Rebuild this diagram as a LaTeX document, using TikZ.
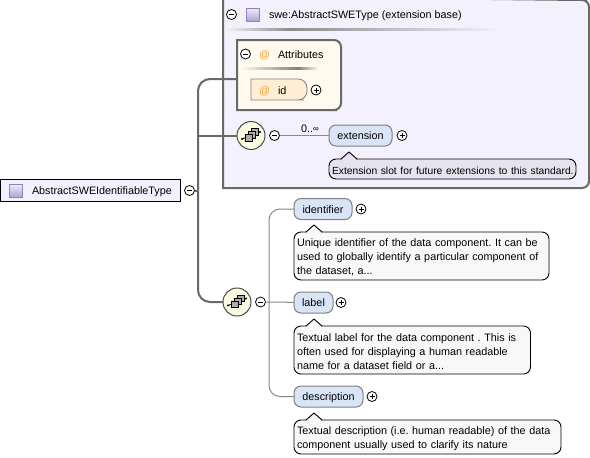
\documentclass[tikz,border=0pt]{standalone}
\usepackage{fontspec}
\setmainfont{Liberation Sans}
\usepackage{xcolor}
\usetikzlibrary{arrows.meta, positioning, calc}
\definecolor{busgray}{RGB}{104,104,104}
\definecolor{thingray}{RGB}{136,136,136}
\definecolor{typefill}{RGB}{243,241,251}
\definecolor{attrfill}{RGB}{255,249,238}
\definecolor{idfill}{RGB}{255,238,212}
\definecolor{elemfill}{RGB}{217,229,246}
\definecolor{notefill}{RGB}{230,227,238}
\definecolor{plainfill}{RGB}{248,248,248}
\definecolor{seqfill}{RGB}{251,251,227}
\definecolor{atorange}{RGB}{238,160,50}
\definecolor{iconline}{RGB}{150,128,190}
\definecolor{iconlight}{RGB}{240,238,248}
\definecolor{icondark}{RGB}{178,160,214}
\frenchspacing

\begin{document}
\begin{tikzpicture}[
  x=1pt, y=-1pt,
  every node/.style={font=\fontsize{10.8}{14}\selectfont, outer sep=0pt},
  bus/.style={draw=busgray, line width=2pt},
  thin line/.style={draw=thingray, line width=1pt},
  btn/.style={circle, draw, fill=white, line width=0.8pt, minimum size=10pt, inner sep=0pt},
  minusbtn/.style={btn, path picture={\draw[line width=0.8pt] ($(path picture bounding box.center)+(-2.5,0)$) -- ($(path picture bounding box.center)+(2.5,0)$);}},
  plusbtn/.style={btn, path picture={\draw[line width=0.8pt] ($(path picture bounding box.center)+(-2.5,0)$) -- ($(path picture bounding box.center)+(2.5,0)$); \draw[line width=0.8pt] ($(path picture bounding box.center)+(0,-2.5)$) -- ($(path picture bounding box.center)+(0,2.5)$);}},
  label text/.style={inner sep=0pt, anchor=base west},
  typeicon/.style={rectangle, draw=iconline, line width=0.8pt, minimum size=13pt, inner sep=0pt, top color=iconlight, bottom color=icondark},
  seqnode/.style={circle, draw=black!70, fill=seqfill, line width=1pt, minimum size=28pt, inner sep=0pt},
  elem/.style={draw=black!50, fill=elemfill, rounded corners=7pt, line width=1pt, minimum height=21pt, inner sep=0pt, text height=8pt, text depth=0pt, anchor=north west},
  docnote/.style={draw=black, line width=0.9pt, rounded corners=7pt, inner xsep=3pt, inner ysep=0pt, anchor=north west, align=left, execute at begin node={\rule{0pt}{11pt}}},
  seqicon/.pic={
    \draw[line width=0.8pt] (-9,3.5) -- (9,-3.5);
    \fill (-9,3.5) circle (1.1pt);
    \fill (9,-3.5) circle (1.1pt);
    \draw[fill=black!33, line width=0.7pt] (0.5,-7) rectangle (7,-0.5);
    \draw[fill=black!33, line width=0.7pt] (-2.5,-4) rectangle (4,2.5);
    \draw[fill=black!33, line width=0.7pt] (-5.5,-1) rectangle (1,5.5);
  }
]
  \useasboundingbox (0,0) rectangle (590,458);

  % Extension base panel
  \draw[draw=busgray, line width=2pt, fill=typefill] (223,-4) -- (223,188) -- (582,188)
    [rounded corners=7pt] -- (589,188) -- (589,0) -- (580,0) [sharp corners] -- cycle;
  \shade[left color=typefill, right color=black!45] (225,28) rectangle (290,30);
  \shade[left color=black!45, right color=typefill] (290,28) rectangle (500,30);
  \node[minusbtn] (basebtn) at (231.5,14.5) {};
  \node[typeicon] (baseicon) at (252.5,14.5) {};
  \node[label text] (basename) at (269,18.5) {swe:AbstractSWEType (extension base)};

  % Attributes group
  \draw[draw=busgray, line width=2pt, fill=attrfill] (237,40) -- (330,40)
    [rounded corners=7pt] -- (341,40) -- (341,110) -- (330,110) [sharp corners] -- (237,110) -- cycle;
  \coordinate (attrsin) at (237,79);
  \shade[left color=attrfill, right color=black!50] (241,67) rectangle (298,69);
  \shade[left color=black!50, right color=attrfill] (298,67) rectangle (318,69);
  \node[minusbtn] (attrsbtn) at (245.5,54) {};
  \node[label text, text=atorange] (attrsat) at (259,58) {@};
  \node[label text] (attrsname) at (278,58) {Attributes};
  \draw[draw=black!50, line width=0.8pt, fill=idfill] (251,79) -- (295,79)
    [rounded corners=9pt] -- (307,79) -- (307,100) -- (295,100) [sharp corners] -- (251,100) -- cycle;
  \node[label text, text=atorange] (idat) at (259,94) {@};
  \node[label text] (idname) at (278,94) {id};
  \node[plusbtn] (idbtn) at (316,90) {};

  % Root type
  \node[draw=black, line width=1pt, fill=typefill, minimum width=180pt, minimum height=22pt, inner sep=0pt, anchor=north west] (root) at (0,179.5) {};
  \node[typeicon] (rooticon) at (15.5,190.5) {};
  \node[label text] (rootname) at (32,194.5) {AbstractSWEIdentifiableType};
  \node[minusbtn] (rootbtn) at (189.5,190.5) {};

  % Compositors
  \node[seqnode] (seqa) at (251,135.5) {};
  \pic at (seqa.center) {seqicon};
  \node[minusbtn] (seqabtn) at (274.5,135.5) {};
  \node[seqnode] (seqb) at (237,302) {};
  \pic at (seqb.center) {seqicon};
  \node[minusbtn] (seqbbtn) at (260.5,302) {};

  % Thick connectors
  \coordinate (bus) at (198,190.5);
  \draw[bus] (rootbtn) -- (bus);
  \draw[bus, rounded corners=12pt] (attrsin) -| (bus);
  \draw[bus, rounded corners=12pt] (bus) |- (seqb);
  \draw[bus] (bus |- seqa) -- (seqa);

  % Elements
  \node[elem, minimum width=63pt] (extension) at (329,125) {extension};
  \node[plusbtn] (extensionbtn) at (402,135.5) {};
  \node[elem, minimum width=58pt] (identifier) at (294,198.5) {identifier};
  \node[plusbtn] (identifierbtn) at (361,209) {};
  \node[elem, minimum width=39pt] (labelel) at (294,292) {label};
  \node[plusbtn] (labelbtn) at (341,302.5) {};
  \node[elem, minimum width=69pt] (description) at (294,386) {description};
  \node[plusbtn] (descriptionbtn) at (372,396.5) {};
  \node[inner sep=0pt, anchor=base west] (occurs) at (301,132) {0..\raisebox{1pt}{\fontsize{8}{8}\selectfont ∞}};

  % Thin connectors
  \draw[thin line] (seqabtn) -- (extension);
  \draw[thin line] (seqbbtn) -- (labelel);
  \coordinate (fork) at (269,302);
  \draw[thin line, rounded corners=11pt] (identifier.west) -| (fork) |- (description.west);

  % Notes
  \node[docnote, fill=notefill, text width=241pt, minimum height=20pt] (extensionnote) at (329,159) {\mbox{\fontsize{10.3}{14}\selectfont Extension slot for future extensions to this standard.}};
  \node[docnote, fill=plainfill, text width=249pt, minimum height=48pt] (identifiernote) at (294,232) {Unique identifier of the data component. It can be\\used to globally identify a particular component of\\the dataset, a...};
  \node[docnote, fill=plainfill, text width=230.5pt, minimum height=48pt] (labelnote) at (294,326) {Textual label for the data component . This is\\often used for displaying a human readable\\name for a dataset field or a...};
  \node[docnote, fill=plainfill, text width=261pt, minimum height=34pt] (descriptionnote) at (294,420) {Textual description (i.e. human readable) of the data\\component usually used to clarify its nature};

  % Note pointers
  \foreach \notename/\notecolor in {extensionnote/notefill, identifiernote/plainfill, labelnote/plainfill, descriptionnote/plainfill} {
    \filldraw[draw=black, fill=\notecolor, line width=0.9pt, line join=round] ($(\notename.north west)+(12,0)$) -- ++(8,-7) -- ++(8,7);
    \draw[draw=\notecolor, line width=1.4pt] ($(\notename.north west)+(12.6,0.2)$) -- ++(14.8,0);
  }
\end{tikzpicture}
\end{document}
